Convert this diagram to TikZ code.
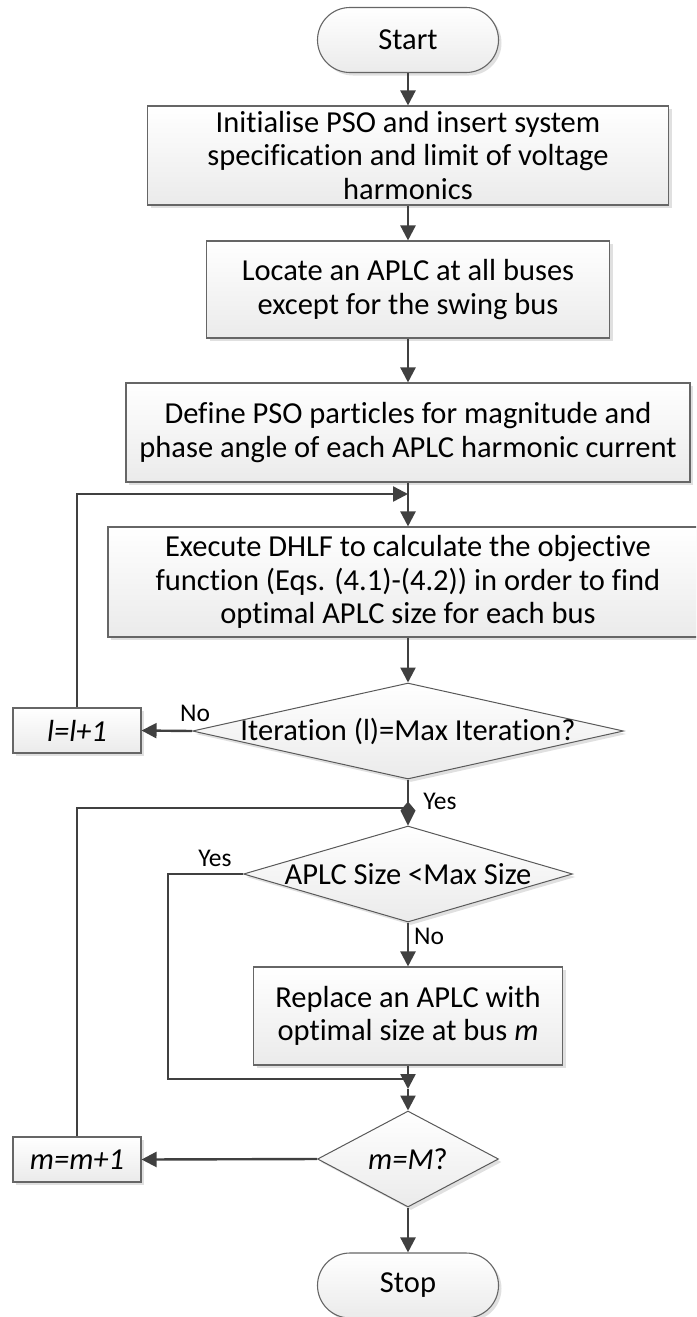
\documentclass[tikz,border=0pt]{standalone}
\usepackage{fontspec}
\setmainfont{Carlito}[Ligatures=NoCommon]
\usetikzlibrary{arrows.meta,shapes.geometric,shadows}
\begin{document}
\begin{tikzpicture}[x=1pt,y=-1pt,
  every node/.style={font=\fontsize{30.5}{33.5}\selectfont, text=black, align=center, inner sep=0pt},
  sh/.style={drop shadow={shadow xshift=3pt, shadow yshift=-3pt, fill=black!12, opacity=1}},
  proc/.style={rectangle, draw=black!60, line width=1.1pt, top color=white, bottom color=black!8, sh},
  term/.style={proc, rounded corners=32.5pt, minimum width=181pt, minimum height=65pt},
  dec/.style={diamond, draw=black!65, line width=1pt, top color=white, bottom color=black!8, sh},
  wire/.style={draw=black!75, line width=2.4pt},
  conn/.style={wire, -{Triangle[length=15pt,width=15pt]}},
  lab/.style={font=\fontsize{25.5}{28}\selectfont}
]
\useasboundingbox (0,0) rectangle (696,1317);
\clip (0,0) rectangle (696,1317);

% main column of steps
\node[term] (start) at (408,40) {Start};
\node[proc, minimum width=521pt, minimum height=99pt] (b1) at (408,155.5)
  {Initialise PSO and insert system\\specification and limit of voltage\\harmonics};
\node[proc, minimum width=403pt, minimum height=97pt] (b2) at (408,289.5)
  {Locate an APLC at all buses\\except for the swing bus};
\node[proc, minimum width=564pt, minimum height=99pt] (b3) at (408,432.5)
  {Define PSO particles for magnitude and\\phase angle of each APLC harmonic current};
\node[proc, minimum width=600pt, minimum height=110pt] (b4) at (408,582)
  {Execute DHLF to calculate the objective\\function (Eqs. (4.1)-(4.2)) in order to find\\optimal APLC size for each bus};

% decisions
\node[dec, minimum width=431pt, minimum height=96pt] (d1) at (408,731) {};
\node (d1t) at (d1) {Iteration (l)=Max Iteration?};
\node[dec, minimum width=329pt, minimum height=96pt] (d2) at (408,874) {};
\node (d2t) at (d2) {APLC Size <Max Size};
\node[proc, minimum width=309pt, minimum height=98pt] (b5) at (408,1016)
  {Replace an APLC with\\optimal size at bus \textit{m}};
\node[dec, minimum width=181pt, minimum height=96pt] (d3) at (408,1159) {};
\node (d3t) at (d3) {\textit{m=M}?};
\node[term] (stop) at (408,1285.5) {Stop};

% counters
\node[proc, minimum width=128pt, minimum height=45pt] (lb) at (77,730.5) {\itshape l=l+1};
\node[proc, minimum width=128pt, minimum height=45pt] (mb) at (77,1159.5) {\itshape m=m+1};

% junction points
\coordinate (j1) at (408,494);
\coordinate (j2) at (408,808);
\coordinate (yc) at (168,1079);
\coordinate (j3) at (408,1079);
\coordinate (j4) at (408,1089);

% connectors
\draw[conn] (start) -- (b1);
\draw[conn] (b1) -- (b2);
\draw[conn] (b2) -- (b3);
\draw[conn] (b3) -- (b4);
\draw[conn] (b4) -- (d1);
\draw[conn] (d1.west) -- (lb.east);
\draw[conn] (lb.north) |- (j1);
\draw[wire, -{Kite[length=24pt,width=15pt,inset=9pt]}] (d1.south) -- (d2.north);
\draw[wire] (mb.north) |- (j2);
\draw[conn] (d2.south) -- (b5.north);
\draw[wire] (d2.west) -| (yc) -- (j3);
\draw[conn] (b5.south) -- (j4);
\draw[conn] (j4) -- (d3.north);
\draw[conn] (d3.west) -- (mb.east);
\draw[conn] (d3.south) -- (stop.north);

% branch labels
\node[lab] (no1) at (195,713) {No};
\node[lab] (yes1) at (440,801) {Yes};
\node[lab] (yes2) at (215,858) {Yes};
\node[lab] (no2) at (429,936) {No};
\end{tikzpicture}
\end{document}
